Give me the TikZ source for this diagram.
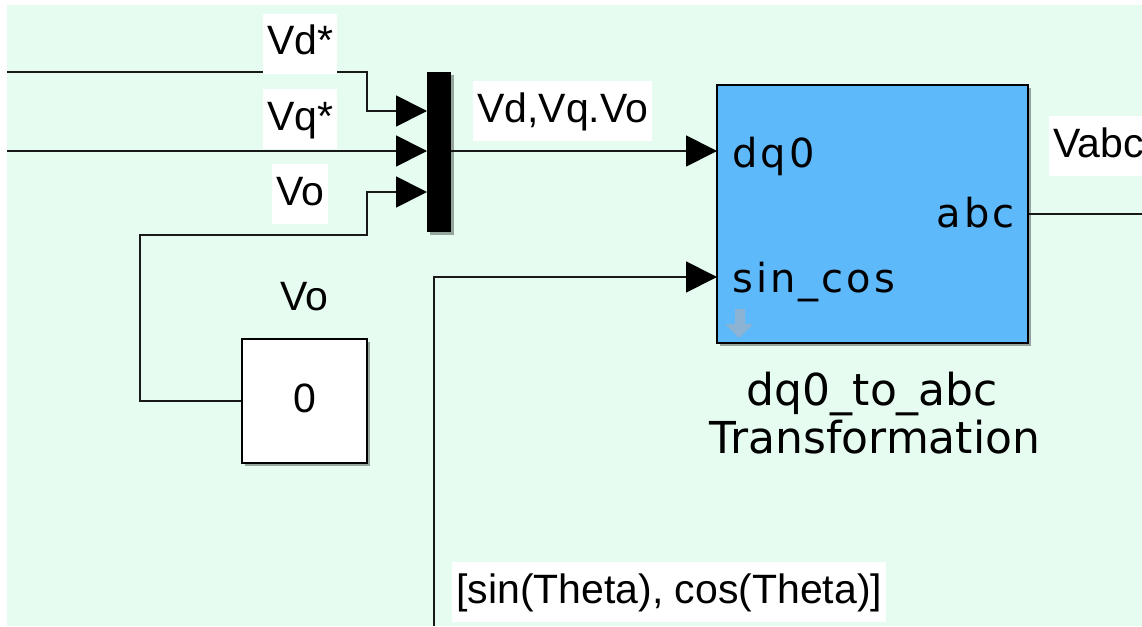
\documentclass[tikz,border=0pt]{standalone}
\usepackage{fontspec}
\setmainfont{Liberation Sans}
\newfontfamily\dvs{DejaVu Sans}
\usetikzlibrary{arrows.meta,shadows,calc}
\definecolor{bgmint}{RGB}{230,252,240}
\definecolor{blkblue}{RGB}{94,185,250}
\definecolor{iconblue}{RGB}{140,178,212}
\begin{document}
\begin{tikzpicture}[x=1pt,y=-1pt,
  sig/.style={line width=1.8pt, draw=black!90},
  arr/.style={-{Triangle[length=31pt,width=31pt,color=black]}},
  lblfont/.style={font=\fontsize{41}{48}\selectfont},
  lbl/.style={lblfont, fill=white, inner xsep=4pt, inner ysep=0pt, text height=41pt, text depth=19pt, anchor=base west},
  port/.style={font=\dvs\fontsize{40}{44}\selectfont, inner sep=0pt},
  namefont/.style={font=\dvs\fontsize{44}{48}\selectfont, inner sep=0pt, anchor=base},
  shad/.style={drop shadow={shadow xshift=3pt,shadow yshift=-3pt,opacity=0.35,fill=black}}
]
\useasboundingbox (0,0) rectangle (1142,626);
\fill[white] (0,0) rectangle (1142,626);
\fill[bgmint] (7,5) rectangle (1142,626);

% blocks
\node[fill=black, minimum width=24pt, minimum height=160pt, inner sep=0pt, shad] (mux) at (439,152) {};
\node[draw=black, line width=2.8pt, fill=blkblue, minimum width=311pt, minimum height=258pt, shad] (blk) at (872.5,214) {};
\node[draw=black, line width=2.8pt, fill=white, minimum width=125pt, minimum height=124pt, lblfont, text height=30pt, text depth=8pt, shad] (const) at (304.5,401) {0};

% coordinates
\coordinate (vdsrc) at (7,72);
\coordinate (vqsrc) at (7,151);
\coordinate (thsrc) at (434,626);
\coordinate (outend) at (1142,214);
\coordinate (mi1) at (427,111);
\coordinate (mi2) at (427,151);
\coordinate (mi3) at (427,192);
\coordinate (mo) at (451,151);
\coordinate (bi1) at (717,151);
\coordinate (bi2) at (717,277);
\coordinate (vdbend) at (367,111);
\coordinate (vobend1) at (140,235);
\coordinate (vobend2) at (367,192);

% connectors
\draw[sig,arr] (vdsrc) -| (vdbend) -- (mi1);
\draw[sig,arr] (vqsrc) -- (mi2);
\draw[sig,arr] (const.west) -| (vobend1) -| (vobend2) -- (mi3);
\draw[sig,arr] (mo) -- (bi1);
\draw[sig,arr] (thsrc) |- (bi2);
\draw[sig] (blk.east) -- (outend);

% port labels
\node[port, anchor=base west] (pdq) at (732,167) {d\kern3pt q\kern3pt 0};
\node[port, anchor=base west] (psc) at (732,292) {s\kern3pt i\kern3pt n\kern3pt \_\kern3pt c\kern3pt o\kern3pt s};
\node[port, anchor=base east] (pabc) at (1015,227) {a\kern3pt b\kern3pt c};

% icon
\fill[iconblue] (735,309) -- (745,309) -- (745,324) -- (753,324) -- (739,338) -- (725,324) -- (735,324) -- cycle;

% block name
\node[namefont] (bn1) at (872.5,405) {dq0\_to\_abc};
\node[namefont] (bn2) at (875,453) {Transformation};

% const caption
\node[lblfont, anchor=base, inner sep=0pt] (vocap) at (304,310) {Vo};

% signal labels
\node[lbl] (lvd) at (263,55) {Vd*};
\node[lbl] (lvq) at (263,130) {Vq*};
\node[lbl] (lvo) at (272,205) {Vo};
\node[lbl] (lvdq) at (473,122) {Vd,Vq.Vo};
\node[lbl] (lvabc) at (1049,157) {Vabc};
\node[lbl] (lth) at (452,603) {[sin(Theta), cos(Theta)]};
\end{tikzpicture}
\end{document}
